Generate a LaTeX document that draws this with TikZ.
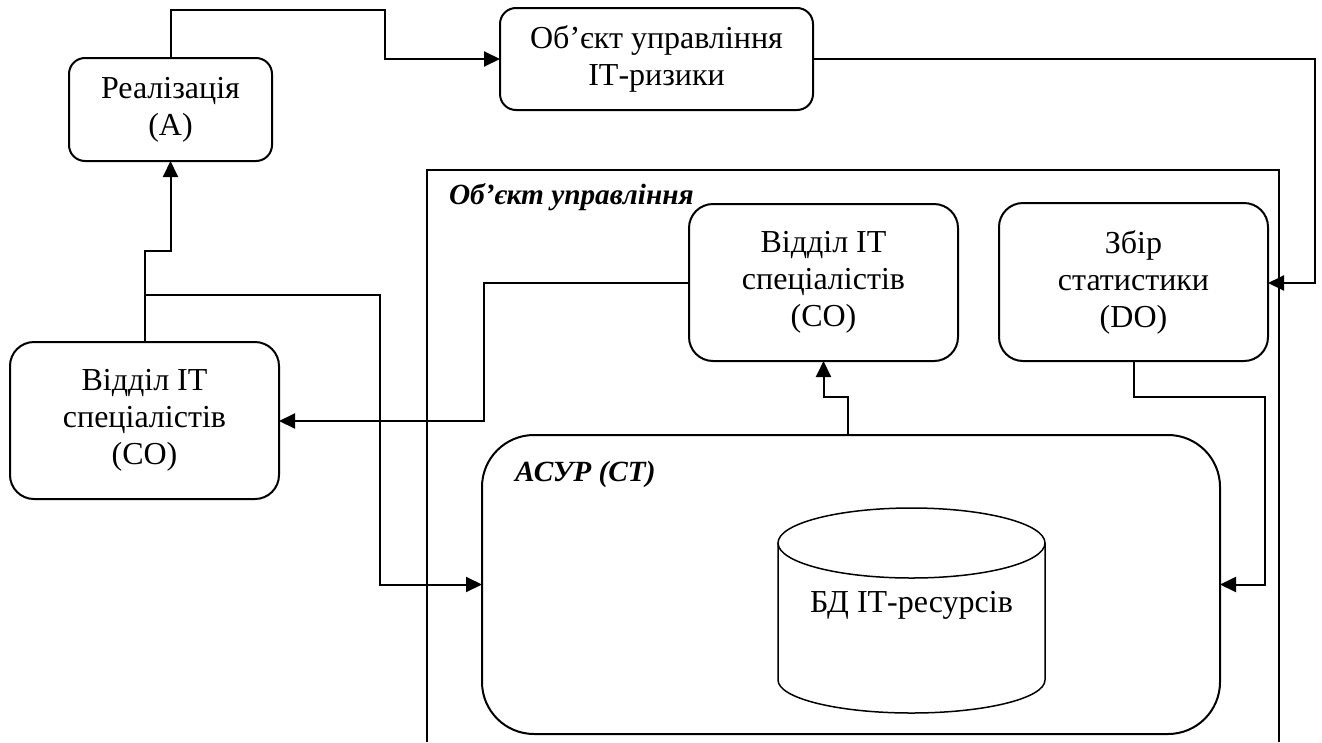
\documentclass[tikz,border=0pt]{standalone}
\usepackage{fontspec}
\setmainfont{Liberation Serif}
\usetikzlibrary{arrows.meta}
\begin{document}
\begin{tikzpicture}[x=1pt,y=-1pt,
  every node/.style={inner sep=0pt, outer sep=0pt},
  unit/.style={draw, line width=2pt, rounded corners=#1, align=center,
    font=\fontsize{32}{37}\selectfont},
  unit/.default=20pt,
  wire/.style={line width=2pt},
  feed/.style={wire, -{Triangle[length=16pt,width=15pt]}},
  caption/.style={anchor=west, font=\fontsize{29.3}{34}\selectfont\bfseries\itshape}]
\useasboundingbox (0,0) rectangle (1322,742);

% enclosing frame of the managed object (open at the bottom)
\draw[wire] (427,742) -- (427,170) -- (1279,170) -- (1279,742);
\node[caption] (objlabel) at (449,197) {Об’єкт управління};

% blocks
\node[unit=16pt, minimum width=203, minimum height=103] (real) at (170.5,109.5) {Реалізація\\(A)};
\node[unit=16pt, minimum width=313, minimum height=102] (risk) at (656.5,59) {Об’єкт управління\\ІТ-ризики};
\node[unit=24pt, minimum width=269, minimum height=157] (coL) at (144.5,420.5) {Відділ ІТ\\спеціалістів\\(СО)};
\node[unit=24pt, minimum width=269, minimum height=157] (coR) at (823.5,282.5) {Відділ ІТ\\спеціалістів\\(СО)};
\node[unit=24pt, minimum width=269, minimum height=158] (stat) at (1133.5,282) {Збір\\статистики\\(DO)};
\node[unit=52pt, minimum width=738, minimum height=299] (asur) at (851,584.5) {};
\node[caption] (asurlabel) at (515,474) {АСУР (СТ)};

% database cylinder
\draw[line width=1.5pt] (778,543) -- (778,680)
  arc[start angle=180, end angle=0, x radius=133.5, y radius=33] -- (1045,543);
\draw[line width=1.5pt] (911.5,543) ellipse[x radius=133.5, y radius=35];
\node[font=\fontsize{32}{37}\selectfont] (db) at (911.5,605) {БД ІТ-ресурсів};

% connectors
\coordinate (j1) at (144.5,295);
\draw[feed] (real.north) -- (170.5,10) -- (385,10) -- (385,59) -- (risk.west);
\draw[feed] (risk.east) -- (1315,59) -- (1315,283) -- (stat.east |- 0,283);
\draw[feed] (coL.north) -- (144.5,251) -- (170.5,251) -- (real.south);
\draw[feed] (j1) -- (380,295) -- (380,584.5) -- (asur.west);
\draw[feed] (coR.west |- 0,283) -- (484,283) -- (484,421) -- (coL.east |- 0,421);
\draw[feed] (848,435) -- (848,397) -- (823.5,397) -- (coR.south);
\draw[feed] (stat.south) -- (1133.5,397) -- (1265,397) -- (1265,584.5) -- (asur.east);
\end{tikzpicture}
\end{document}
